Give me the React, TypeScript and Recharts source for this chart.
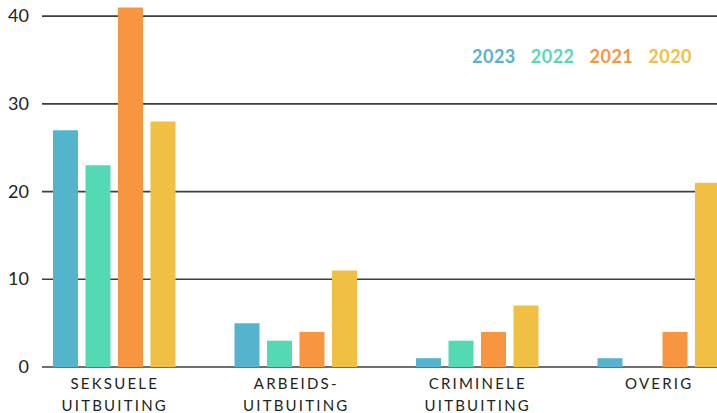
import { BarChart, Bar, XAxis, YAxis, CartesianGrid } from 'recharts'

const categories = [
  ['SEKSUELE', 'UITBUITING'],
  ['ARBEIDS-', 'UITBUITING'],
  ['CRIMINELE', 'UITBUITING'],
  ['OVERIG'],
]
const years = ['2023', '2022', '2021', '2020']
const values2023 = [27, 5, 1, 1]
const values2022 = [23, 3, 3, 0]
const values2021 = [41, 4, 4, 4]
const values2020 = [28, 11, 7, 21]
const yTicks = [0, 10, 20, 30, 40]

const colors = ['#55b4cd', '#55d9b5', '#f79541', '#f0bf44']

const data = categories.map((lines, i) => ({
  name: lines.join(' '),
  lines,
  '2023': values2023[i],
  '2022': values2022[i],
  '2021': values2021[i],
  '2020': values2020[i],
}))

const font = 'Lato, "Open Sans", sans-serif'

function GridLine(props: any) {
  return (
    <line
      key={props.key}
      x1={props.x1 + 19}
      x2={props.x2}
      y1={props.y1}
      y2={props.y2}
      stroke="#3f3f3f"
      strokeWidth={1.6}
    />
  )
}

function CategoryTick({ x, y, payload }: any) {
  const lines: string[] = data[payload.index]?.lines ?? [payload.value]
  return (
    <text
      x={x}
      y={y}
      textAnchor="middle"
      fill="#222"
      fontSize={15}
      fontFamily={font}
      letterSpacing={2.2}
    >
      {lines.map((l, i) => (
        <tspan key={l + i} x={x + 1} dy={i === 0 ? 14 : 22}>
          {l}
        </tspan>
      ))}
    </text>
  )
}

function ValueTick({ x, y, payload }: any) {
  return (
    <text x={x + 14} y={y} dy={6} textAnchor="end" fill="#222" fontSize={18} fontFamily={font}>
      {payload.value}
    </text>
  )
}

export default function App() {
  return (
    <div
      style={{
        position: 'absolute',
        left: 0,
        top: 0,
        width: 717,
        height: 413,
        overflow: 'hidden',
        background: '#fff',
      }}
    >
      <BarChart
        width={760}
        height={413}
        data={data}
        margin={{ top: 3, right: 11, left: 0, bottom: 16 }}
        barSize={25}
        barGap={7.5}
      >
        <CartesianGrid vertical={false} horizontal={GridLine} horizontalValues={yTicks} />
        <XAxis
          dataKey="name"
          height={30}
          axisLine={false}
          tickLine={false}
          interval={0}
          tick={<CategoryTick />}
        />
        <YAxis
          width={23}
          domain={[0, 41.5]}
          ticks={yTicks}
          axisLine={false}
          tickLine={false}
          tick={<ValueTick />}
        />
        {years.map((y, i) => (
          <Bar key={y} dataKey={y} fill={colors[i]} isAnimationActive={false} />
        ))}
      </BarChart>
      <div
        style={{
          position: 'absolute',
          left: 472,
          top: 45,
          display: 'flex',
          gap: 15,
          fontFamily: font,
          fontSize: 18,
          fontWeight: 700,
          letterSpacing: 0.5,
        }}
      >
        {years.map((y, i) => (
          <span key={y} style={{ color: colors[i] }}>
            {y}
          </span>
        ))}
      </div>
    </div>
  )
}
